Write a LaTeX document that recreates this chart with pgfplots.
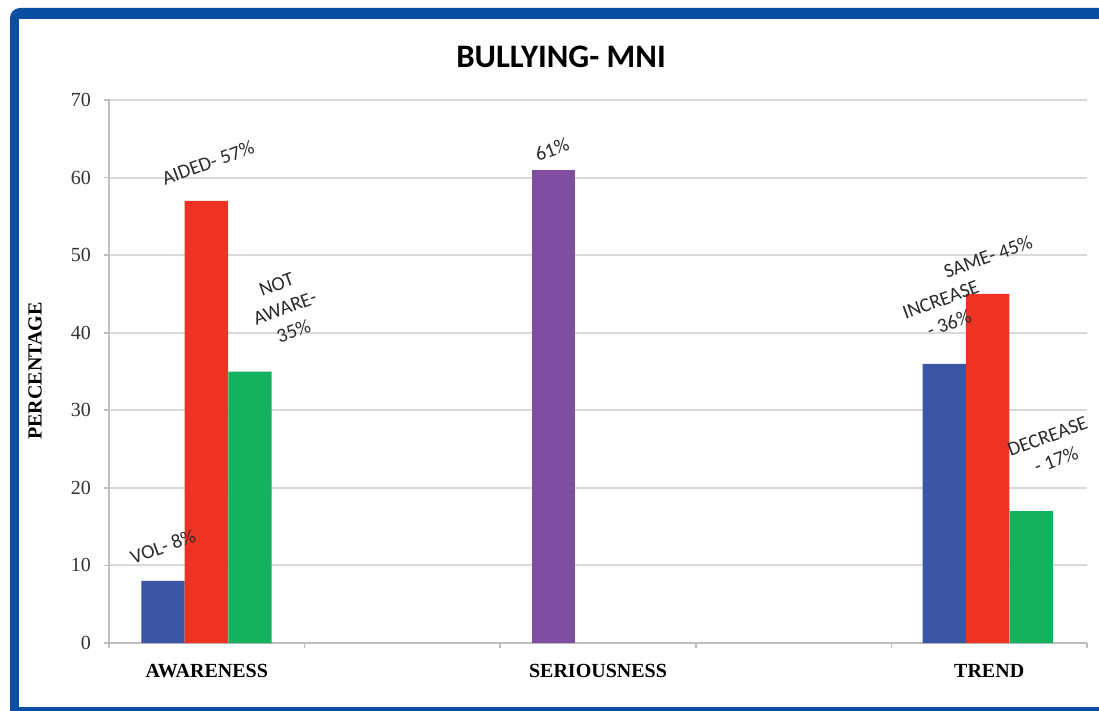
\documentclass[border=0pt]{standalone}
\usepackage{fontspec}
\setmainfont{Liberation Serif}
\newfontfamily\carlito{Carlito}
\usepackage{pgfplots}
\pgfplotsset{compat=1.18}
\definecolor{frameblue}{HTML}{0A4EA3}
\definecolor{barblue}{HTML}{3C56A6}
\definecolor{barred}{HTML}{EE3224}
\definecolor{bargreen}{HTML}{14B15E}
\definecolor{barpurple}{HTML}{7F4EA0}
\definecolor{gridgray}{HTML}{D9D9D9}
\definecolor{axisgray}{HTML}{BFBFBF}
\definecolor{labelgray}{HTML}{2B2B2B}
\tikzset{dlabel/.style={font=\carlito\fontsize{10}{12.5}\selectfont, text=labelgray,
  align=center, rotate=20, inner sep=0pt}}

\begin{document}
\begin{tikzpicture}
% page frame, one unit = one reference pixel
\begin{scope}[x=0.5pt,y=-0.5pt]
\path[fill=white] (0,0) rectangle (1099,711);
\fill[frameblue] (10,711) [rounded corners=5pt] -- (10,8) [sharp corners] -- (1099,8) -- (1099,711) -- cycle;
\fill[white] (19,19) rectangle (1099,707);
\node[font=\carlito\bfseries\fontsize{16.4}{20}\selectfont] at (561,57) {BULLYING- MNI};
\node[font=\bfseries\fontsize{10}{12}\selectfont, rotate=90] at (35,371) {PERCENTAGE};
\end{scope}

\begin{axis}[
  at={(54.5pt,-321.5pt)}, anchor=south west,
  scale only axis, width=489pt, height=271.5pt,
  xmin=0.5, xmax=5.5, ymin=0, ymax=70,
  xtick={0.5,1.5,...,5.5}, xticklabels={},
  ytick={0,10,...,70},
  extra x ticks={1,3,5},
  extra x tick labels={AWARENESS,SERIOUSNESS,TREND},
  extra x tick style={major tick length=0pt, grid=none,
    tick label style={font=\bfseries\fontsize{10}{12}\selectfont, yshift=-7pt}},
  axis lines*=left, axis line style={-, axisgray, line width=0.8pt},
  tick style={axisgray, line width=0.8pt},
  tick align=outside, major tick length=2.5pt,
  ymajorgrids, grid style={gridgray, line width=1pt},
  yticklabel style={font=\fontsize{10}{12}\selectfont, text=black!80, xshift=-3pt},
  /pgf/number format/assume math mode=true,
  clip=false,
]
\addplot[ybar, bar width=0.222, bar shift=0pt, fill=barblue, draw=none]
  coordinates {(0.776,8) (4.771,36)};
\addplot[ybar, bar width=0.222, bar shift=0pt, fill=barred, draw=none]
  coordinates {(0.998,57) (4.992,45)};
\addplot[ybar, bar width=0.222, bar shift=0pt, fill=bargreen, draw=none]
  coordinates {(1.221,35) (5.215,17)};
\addplot[ybar, bar width=0.222, bar shift=0pt, fill=barpurple, draw=none]
  coordinates {(2.772,61)};

\node[dlabel] at (axis cs:0.776,12.4) {VOL- 8\%};
\node[dlabel] at (axis cs:1.006,61.9) {AIDED- 57\%};
\node[dlabel] at (axis cs:1.40,43.2) {NOT\\AWARE-\\35\%};
\node[dlabel] at (axis cs:2.765,63.6) {61\%};
\node[dlabel] at (axis cs:4.774,42.7) {INCREASE\\- 36\%};
\node[dlabel] at (axis cs:4.994,49.8) {SAME- 45\%};
\node[dlabel] at (axis cs:5.32,25.1) {DECREASE\\- 17\%};
\end{axis}
\pgfresetboundingbox
\path[use as bounding box] (0,0) rectangle (549.5pt,-355.5pt);
\end{tikzpicture}
\end{document}
